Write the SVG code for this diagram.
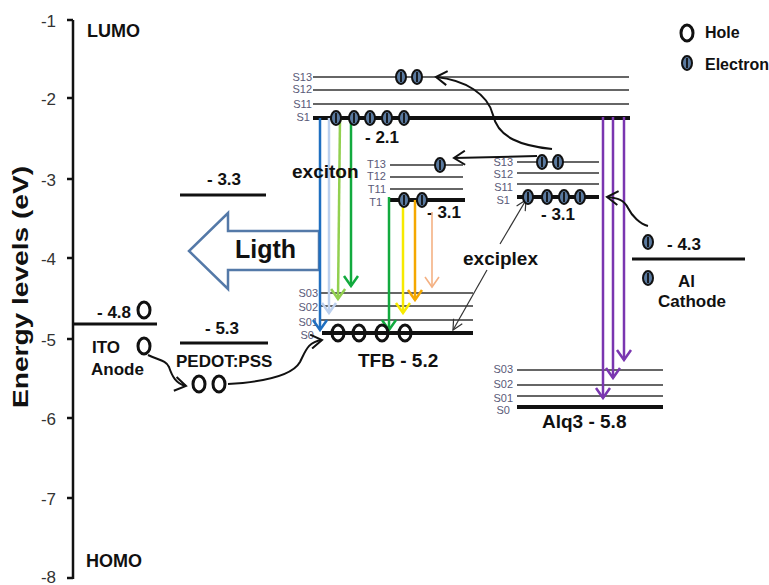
<svg xmlns="http://www.w3.org/2000/svg" xmlns:xlink="http://www.w3.org/1999/xlink" width="769" height="585" viewBox="0 0 769 585">
<style>
  .ax{stroke:#111;stroke-width:2.5;fill:none}
  .tk{font-family:"Liberation Sans Narrow","Liberation Sans",sans-serif;font-size:17px;fill:#333}
  .nb{font-family:"Liberation Sans Narrow","Liberation Sans",sans-serif;font-weight:bold;fill:#111}
  .b{font-family:"Liberation Sans",sans-serif;font-weight:bold;fill:#111}
  .sl{font-family:"Liberation Sans Narrow","Liberation Sans",sans-serif;font-size:11px;fill:#5a5a78}
  .thin{stroke:#333;stroke-width:1.6}
  .thick{stroke:#111;stroke-width:4}
  .cv{fill:none;stroke:#111;stroke-width:2}
</style>
<defs>
  <g id="el"><ellipse rx="5" ry="7" fill="#5a7aa0" stroke="#111" stroke-width="2"/><line x1="0" y1="-5" x2="0" y2="5" stroke="#111" stroke-width="1.8"/></g>
  <ellipse id="hole" rx="6" ry="8" fill="none" stroke="#111" stroke-width="3"/>
  <marker id="mBlue" markerUnits="userSpaceOnUse" markerWidth="14" markerHeight="18" viewBox="0 0 14 18" refX="12" refY="9" orient="auto"><path d="M2,2 L12,9 L2,16" fill="none" stroke="#1f6fc0" stroke-width="2.5"/></marker>
  <marker id="mLBlue" markerUnits="userSpaceOnUse" markerWidth="14" markerHeight="18" viewBox="0 0 14 18" refX="12" refY="9" orient="auto"><path d="M2,2 L12,9 L2,16" fill="none" stroke="#bcd0ee" stroke-width="2.5"/></marker>
  <marker id="mLGreen" markerUnits="userSpaceOnUse" markerWidth="14" markerHeight="18" viewBox="0 0 14 18" refX="12" refY="9" orient="auto"><path d="M2,2 L12,9 L2,16" fill="none" stroke="#92d050" stroke-width="2.5"/></marker>
  <marker id="mGreen" markerUnits="userSpaceOnUse" markerWidth="14" markerHeight="18" viewBox="0 0 14 18" refX="12" refY="9" orient="auto"><path d="M2,2 L12,9 L2,16" fill="none" stroke="#12aa3e" stroke-width="2.5"/></marker>
  <marker id="mYellow" markerUnits="userSpaceOnUse" markerWidth="14" markerHeight="18" viewBox="0 0 14 18" refX="12" refY="9" orient="auto"><path d="M2,2 L12,9 L2,16" fill="none" stroke="#f7ea00" stroke-width="2.5"/></marker>
  <marker id="mOrange" markerUnits="userSpaceOnUse" markerWidth="14" markerHeight="18" viewBox="0 0 14 18" refX="12" refY="9" orient="auto"><path d="M2,2 L12,9 L2,16" fill="none" stroke="#f5a800" stroke-width="2.5"/></marker>
  <marker id="mLOrange" markerUnits="userSpaceOnUse" markerWidth="14" markerHeight="18" viewBox="0 0 14 18" refX="12" refY="9" orient="auto"><path d="M2,2 L12,9 L2,16" fill="none" stroke="#f4b183" stroke-width="1.6"/></marker>
  <marker id="mPurple" markerUnits="userSpaceOnUse" markerWidth="14" markerHeight="18" viewBox="0 0 14 18" refX="12" refY="9" orient="auto"><path d="M2,2 L12,9 L2,16" fill="none" stroke="#7a36b0" stroke-width="2.5"/></marker>
  <marker id="mBlack" markerUnits="userSpaceOnUse" markerWidth="14" markerHeight="16" viewBox="0 0 14 16" refX="12" refY="8" orient="auto"><path d="M1,1 L12,8 L1,15" fill="none" stroke="#111" stroke-width="2"/></marker>
  <marker id="mThin" markerUnits="userSpaceOnUse" markerWidth="12" markerHeight="12" viewBox="0 0 12 12" refX="11" refY="6" orient="auto-start-reverse"><path d="M1,1 L11,6 L1,11" fill="none" stroke="#333" stroke-width="1.2"/></marker>
</defs>

<!-- Axis -->
<g id="axis">
  <line class="ax" x1="73" y1="20" x2="73" y2="579"/>
  <g stroke="#111" stroke-width="2.5">
    <line x1="67" y1="20" x2="73" y2="20"/><line x1="67" y1="98" x2="73" y2="98"/>
    <line x1="67" y1="179" x2="73" y2="179"/><line x1="67" y1="258" x2="73" y2="258"/>
    <line x1="67" y1="339" x2="73" y2="339"/><line x1="67" y1="418" x2="73" y2="418"/>
    <line x1="67" y1="498" x2="73" y2="498"/><line x1="67" y1="578" x2="73" y2="578"/>
  </g>
  <g class="tk" text-anchor="end">
    <text x="56" y="27">-1</text><text x="56" y="105">-2</text>
    <text x="56" y="186">-3</text><text x="56" y="265">-4</text>
    <text x="56" y="346">-5</text><text x="56" y="425">-6</text>
    <text x="56" y="505">-7</text><text x="56" y="583">-8</text>
  </g>
  <text class="nb" x="87" y="37" font-size="18">LUMO</text>
  <text class="nb" x="86" y="567" font-size="18">HOMO</text>
  <text class="b" font-size="22" text-anchor="middle" transform="translate(28,287) rotate(-90)" textLength="242" lengthAdjust="spacingAndGlyphs">Energy levels (eV)</text>
</g>

<!-- Legend -->
<g id="legend">
  <use href="#hole" x="687" y="33"/>
  <text class="nb" x="705" y="38" font-size="16">Hole</text>
  <use href="#el" x="687" y="63"/>
  <text class="nb" x="705" y="70" font-size="16">Electron</text>
</g>

<!-- ITO anode -->
<g id="ito">
  <line x1="73" y1="324" x2="157" y2="324" stroke="#111" stroke-width="3"/>
  <text class="nb" x="97" y="318" font-size="17">- 4.8</text>
  <use href="#hole" x="144" y="310"/>
  <text class="nb" x="92" y="353" font-size="17" font-weight="normal">ITO</text>
  <use href="#hole" x="144" y="346"/>
  <text class="nb" x="91" y="375" font-size="17" font-weight="normal">Anode</text>
</g>

<!-- PEDOT:PSS -->
<g id="pedot">
  <line x1="180" y1="195" x2="266" y2="195" stroke="#111" stroke-width="3"/>
  <text class="nb" x="207" y="185" font-size="17">- 3.3</text>
  <line x1="180" y1="343" x2="268" y2="343" stroke="#111" stroke-width="3"/>
  <text class="nb" x="205" y="334" font-size="17">- 5.3</text>
  <text class="nb" x="176" y="367" font-size="17" font-weight="normal">PEDOT:PSS</text>
  <use href="#hole" x="199" y="384"/>
  <use href="#hole" x="219" y="384"/>
</g>

<!-- TFB -->
<g id="tfb">
  <line class="thin" x1="313" y1="77" x2="629" y2="77"/>
  <line class="thin" x1="313" y1="90" x2="629" y2="90"/>
  <line class="thin" x1="313" y1="104" x2="629" y2="104"/>
  <line class="thick" x1="313" y1="118" x2="630" y2="118"/>
  <g class="sl" text-anchor="end">
    <text x="312" y="81">S13</text><text x="312" y="93">S12</text>
    <text x="312" y="108">S11</text><text x="310" y="121">S1</text>
  </g>
  <text class="nb" x="365" y="143" font-size="17">- 2.1</text>
  <line class="thin" x1="390" y1="165" x2="463" y2="165"/>
  <line class="thin" x1="390" y1="177" x2="463" y2="177"/>
  <line class="thin" x1="390" y1="189" x2="463" y2="189"/>
  <line class="thick" x1="390" y1="200" x2="465" y2="200"/>
  <g class="sl" text-anchor="end">
    <text x="386" y="168">T13</text><text x="386" y="180">T12</text>
    <text x="386" y="193">T11</text><text x="382" y="206">T1</text>
  </g>
  <text class="nb" x="427" y="218" font-size="17">- 3.1</text>
  <line class="thin" x1="320" y1="293" x2="473" y2="293"/>
  <line class="thin" x1="320" y1="306" x2="473" y2="306"/>
  <line class="thin" x1="320" y1="320" x2="473" y2="320"/>
  <line class="thick" x1="322" y1="333" x2="473" y2="333"/>
  <g class="sl" text-anchor="end">
    <text x="318" y="297">S03</text><text x="318" y="311">S02</text>
    <text x="318" y="326">S01</text><text x="314" y="339">S0</text>
  </g>
  <text class="nb" x="358" y="367" font-size="19">TFB - 5.2</text>
</g>

<!-- Alq3 -->
<g id="alq3">
  <line class="thin" x1="517" y1="162" x2="599" y2="162"/>
  <line class="thin" x1="517" y1="173" x2="599" y2="173"/>
  <line class="thin" x1="517" y1="184" x2="599" y2="184"/>
  <line class="thick" x1="517" y1="197" x2="599" y2="197"/>
  <g class="sl" text-anchor="end">
    <text x="513" y="166">S13</text><text x="513" y="178">S12</text>
    <text x="513" y="191">S11</text><text x="510" y="204">S1</text>
  </g>
  <text class="nb" x="541" y="220" font-size="17">- 3.1</text>
  <line class="thin" x1="517" y1="370" x2="663" y2="370"/>
  <line class="thin" x1="517" y1="385" x2="663" y2="385"/>
  <line class="thin" x1="517" y1="396" x2="663" y2="396"/>
  <line class="thick" x1="517" y1="407" x2="663" y2="407"/>
  <g class="sl" text-anchor="end">
    <text x="513" y="373">S03</text><text x="513" y="388">S02</text>
    <text x="513" y="402">S01</text><text x="510" y="414">S0</text>
  </g>
  <text class="nb" x="542" y="428" font-size="19">Alq3 - 5.8</text>
</g>

<!-- Al cathode -->
<g id="al">
  <line x1="632" y1="259" x2="745" y2="259" stroke="#111" stroke-width="3"/>
  <use href="#el" x="648" y="242"/>
  <text class="nb" x="667" y="250" font-size="17">- 4.3</text>
  <use href="#el" x="648" y="278"/>
  <text class="nb" x="678" y="287" font-size="17" font-weight="normal">Al</text>
  <text class="nb" x="658" y="307" font-size="17" font-weight="normal">Cathode</text>
</g>

<!-- Light arrow -->
<g id="light">
  <polygon points="319,231 228,231 228,213 189,251 228,289 228,270 319,270" fill="#fff" stroke="#5479a8" stroke-width="2.5"/>
  <text class="b" x="235" y="258" font-size="25">Ligth</text>
</g>

<!-- Connectors -->
<g id="connectors" fill="none">
  <line x1="320" y1="118" x2="320" y2="330" stroke="#1f6fc0" stroke-width="2.5" marker-end="url(#mBlue)"/>
  <line x1="329" y1="118" x2="329" y2="313" stroke="#bcd0ee" stroke-width="2.5" marker-end="url(#mLBlue)"/>
  <line x1="340" y1="118" x2="338" y2="299" stroke="#92d050" stroke-width="2.5" marker-end="url(#mLGreen)"/>
  <line x1="351" y1="118" x2="351" y2="286" stroke="#12aa3e" stroke-width="2.5" marker-end="url(#mGreen)"/>
  <line x1="389" y1="197" x2="389" y2="330" stroke="#12aa3e" stroke-width="2.5" marker-end="url(#mGreen)"/>
  <line x1="403" y1="200" x2="403" y2="313" stroke="#f7ea00" stroke-width="2.5" marker-end="url(#mYellow)"/>
  <line x1="415" y1="200" x2="415" y2="300" stroke="#f5a800" stroke-width="2.5" marker-end="url(#mOrange)"/>
  <line x1="432" y1="212" x2="432" y2="287" stroke="#f4b183" stroke-width="1.6" marker-end="url(#mLOrange)"/>
  <line x1="603" y1="117" x2="603" y2="398" stroke="#7a36b0" stroke-width="2.5" marker-end="url(#mPurple)"/>
  <line x1="613" y1="117" x2="613" y2="378" stroke="#7a36b0" stroke-width="2.5" marker-end="url(#mPurple)"/>
  <line x1="624" y1="117" x2="624" y2="360" stroke="#7a36b0" stroke-width="2.5" marker-end="url(#mPurple)"/>
  <path class="cv" d="M148,355 C158,360 166,360 169,367 C172,376 176,384 186,386" marker-end="url(#mBlack)"/>
  <path class="cv" d="M228,384 C262,382 292,376 300,362 C306,350 308,342 322,340" marker-end="url(#mBlack)"/>
  <path class="cv" d="M552,149 C522,146 498,138 493,115 C488,94 465,80 436,77" marker-end="url(#mBlack)"/>
  <path class="cv" d="M537,156 L454,158" marker-end="url(#mBlack)"/>
  <path class="cv" d="M648,226 C640,224 632,216 628,208 C624,200 618,198 607,197" marker-end="url(#mBlack)"/>
  <line x1="487" y1="270" x2="453" y2="330" stroke="#333" stroke-width="1.2" marker-end="url(#mThin)"/>
  <line x1="500" y1="244" x2="526" y2="200" stroke="#333" stroke-width="1.2" marker-end="url(#mThin)"/>
</g>

<!-- Carriers on levels -->
<g id="carriers">
  <use href="#el" x="401" y="77"/><use href="#el" x="417" y="77"/>
  <use href="#el" x="336" y="118"/><use href="#el" x="354" y="118"/><use href="#el" x="370" y="118"/><use href="#el" x="387" y="118"/><use href="#el" x="404" y="118"/>
  <use href="#el" x="440" y="165"/>
  <use href="#el" x="404" y="200"/><use href="#el" x="422" y="200"/>
  <use href="#el" x="542" y="162"/><use href="#el" x="558" y="162"/>
  <use href="#el" x="528" y="197"/><use href="#el" x="547" y="197"/><use href="#el" x="564" y="197"/><use href="#el" x="580" y="197"/>
  <use href="#hole" x="338" y="333"/><use href="#hole" x="359" y="333"/><use href="#hole" x="382" y="333"/><use href="#hole" x="405" y="333"/>
</g>

<text class="b" x="292" y="178" font-size="19">exciton</text>
<text class="b" x="463" y="265" font-size="19">exciplex</text>
</svg>
